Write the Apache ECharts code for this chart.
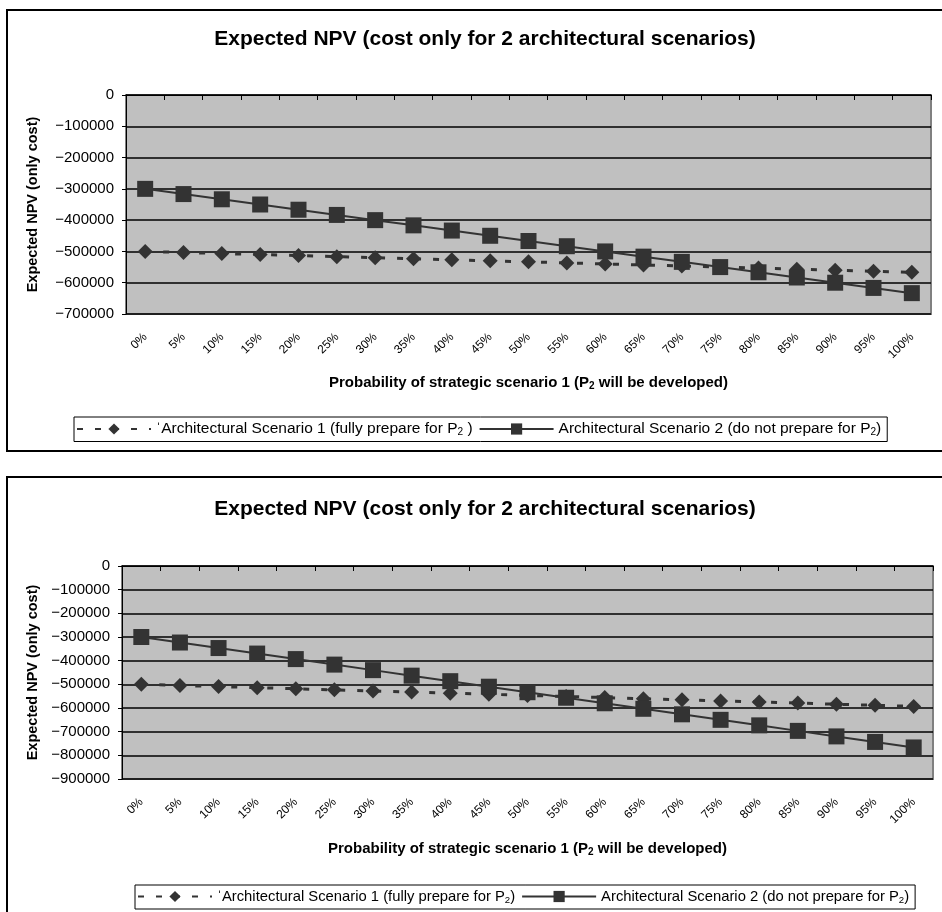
<!DOCTYPE html>
<html>
<head>
<meta charset="utf-8">
<script src="https://cdn.jsdelivr.net/npm/echarts@6/dist/echarts.min.js"></script>
<style>
html,body{margin:0;padding:0;background:#fff;}
#c{width:942px;height:912px;}
</style>
</head>
<body>
<div id="c"></div>
<script>
const categories = ['0%','5%','10%','15%','20%','25%','30%','35%','40%','45%','50%','55%','60%','65%','70%','75%','80%','85%','90%','95%','100%'];

const chart1Scenario1 = [-500000,-503333,-506667,-510000,-513333,-516667,-520000,-523333,-526667,-530000,-533333,-536667,-540000,-543333,-546667,-550000,-553333,-556667,-560000,-563333,-566667];
const chart1Scenario2 = [-300000,-316667,-333333,-350000,-366667,-383333,-400000,-416667,-433333,-450000,-466667,-483333,-500000,-516667,-533333,-550000,-566667,-583333,-600000,-616667,-633333];

const chart2Scenario1 = [-500000,-504667,-509333,-514000,-518667,-523333,-528000,-532667,-537333,-542000,-546667,-551333,-556000,-560667,-565333,-570000,-574667,-579333,-584000,-588667,-593333];
const chart2Scenario2 = [-300000,-323333,-346667,-370000,-393333,-416667,-440000,-463333,-486667,-510000,-533333,-556667,-580000,-603333,-626667,-650000,-673333,-696667,-720000,-743333,-766667];

const chart1YMin = -700000;
const chart2YMin = -900000;
const yMax = 0;
const yStep = 100000;

const titleText = 'Expected NPV (cost only for 2 architectural scenarios)';
const yName = 'Expected NPV (only cost)';
const xName = 'Probability of strategic scenario 1 (P{sub|2} will be developed)';
const seriesNames = ['Architectural Scenario 1 (fully prepare for P2)', 'Architectural Scenario 2 (do not prepare for P2)'];
const legendLabels1 = ['\u02C8Architectural Scenario 1 (fully prepare for P{sub|2} )', 'Architectural Scenario 2 (do not prepare for P{sub|2})'];
const legendLabels2 = ['\u02C8Architectural Scenario 1 (fully prepare for P{sub|2})', 'Architectural Scenario 2 (do not prepare for P{sub|2})'];

const FONT = "'Liberation Sans', Arial, sans-serif";
const DARK = '#333333';

function xAxisCfg(gridIndex, gap) {
  return {
    type: 'category', gridIndex, data: categories, boundaryGap: true,
    name: xName, nameLocation: 'middle', nameGap: gap,
    nameTextStyle: {fontFamily: FONT, fontSize: 15, fontWeight: 'bold', color: '#000',
      rich: {sub: {fontFamily: FONT, fontSize: 10, fontWeight: 'bold', verticalAlign: 'bottom', padding: [7,0,0,0]}}},
    axisLine: {show: true, lineStyle: {color: '#000', width: 1}},
    axisTick: {show: true, length: 5, lineStyle: {color: '#000'}},
    axisLabel: {rotate: 45, margin: 21, fontFamily: FONT, fontSize: 12, color: '#000', interval: 0},
    splitLine: {show: false}
  };
}
function yAxisCfg(gridIndex, min, gap) {
  return {
    type: 'value', gridIndex, min, max: yMax, interval: yStep,
    name: yName, nameLocation: 'middle', nameGap: gap,
    nameTextStyle: {fontFamily: FONT, fontSize: 14.5, fontWeight: 'bold', color: '#000'},
    axisLine: {show: true, lineStyle: {color: '#000', width: 1}},
    axisTick: {show: true, length: 4, lineStyle: {color: '#000'}},
    axisLabel: {fontFamily: FONT, fontSize: 15, color: '#000', margin: 12,
      formatter: v => (v === 0 ? '0' : '\u2212' + Math.abs(v))},
    splitLine: {show: true, lineStyle: {color: '#000', width: 1.5}}
  };
}
function s1(idx, data) {
  return {
    name: seriesNames[0], type: 'line', xAxisIndex: idx, yAxisIndex: idx, data,
    symbol: 'diamond', symbolSize: [15, 15], itemStyle: {color: DARK},
    lineStyle: {color: DARK, width: 3, type: [6, 12]}, animation: false
  };
}
function s2(idx, data) {
  return {
    name: seriesNames[1], type: 'line', xAxisIndex: idx, yAxisIndex: idx, data,
    symbol: 'rect', symbolSize: [16, 16], itemStyle: {color: DARK},
    lineStyle: {color: DARK, width: 2}, animation: false
  };
}
function legendCfg(labels, left, top, fs) {
  return {
    left, top, orient: 'horizontal', data: seriesNames,
    itemWidth: 74, itemHeight: 14, itemGap: 6,
    borderColor: '#000', borderWidth: 1, backgroundColor: '#fff',
    padding: [4, 6, 4, 2],
    formatter: name => labels[seriesNames.indexOf(name)],
    textStyle: {fontFamily: FONT, fontSize: fs, color: '#000',
      rich: {sub: {fontFamily: FONT, fontSize: fs * 0.65, verticalAlign: 'bottom', padding: [7,0,0,0]}}},
    selectedMode: false
  };
}

const chart = echarts.init(document.getElementById('c'), null, {renderer: 'canvas'});
chart.setOption({
  backgroundColor: '#fff',
  animation: false,
  title: [
    {text: titleText, left: 480, top: 24, textAlign: 'center',
     textStyle: {fontFamily: FONT, fontSize: 21, fontWeight: 'bold', color: '#000'}},
    {text: titleText, left: 480, top: 494, textAlign: 'center',
     textStyle: {fontFamily: FONT, fontSize: 21, fontWeight: 'bold', color: '#000'}}
  ],
  grid: [
    {left: 126, top: 95, width: 805, height: 219, show: true, backgroundColor: '#c0c0c0', borderColor: '#808080', borderWidth: 2, containLabel: false},
    {left: 122, top: 566, width: 811, height: 213, show: true, backgroundColor: '#c0c0c0', borderColor: '#808080', borderWidth: 2, containLabel: false}
  ],
  xAxis: [xAxisCfg(0, 60), xAxisCfg(1, 61)],
  yAxis: [yAxisCfg(0, chart1YMin, 86), yAxisCfg(1, chart2YMin, 82)],
  legend: [legendCfg(legendLabels1, 74, 417, 15.5), legendCfg(legendLabels2, 135, 885, 14.8)],
  series: [s1(0, chart1Scenario1), s2(0, chart1Scenario2), s1(1, chart2Scenario1), s2(1, chart2Scenario2)],
  graphic: [
    {type: 'rect', shape: {x: 7, y: 10, width: 950, height: 441}, style: {fill: null, stroke: '#000', lineWidth: 2}, silent: true, z: 100},
    {type: 'rect', shape: {x: 7, y: 477, width: 950, height: 450}, style: {fill: null, stroke: '#000', lineWidth: 2}, silent: true, z: 100}
  ]
});
</script>
</body>
</html>
